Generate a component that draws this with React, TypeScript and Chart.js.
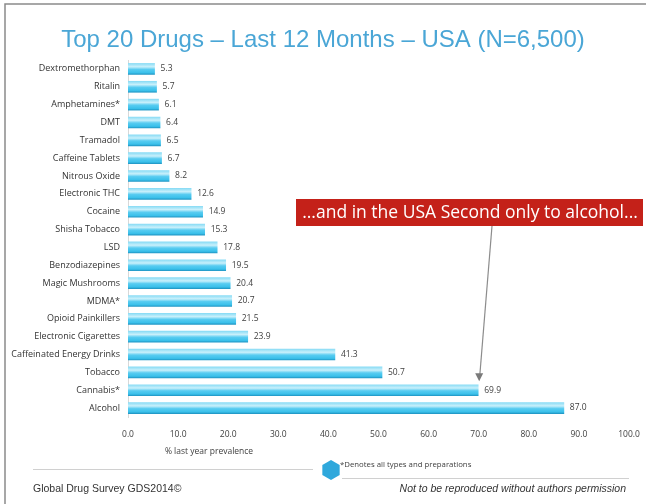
import React, { useEffect, useRef } from "react";
import { Chart, registerables } from "chart.js";

Chart.register(...registerables);

const categories = [
  "Dextromethorphan",
  "Ritalin",
  "Amphetamines*",
  "DMT",
  "Tramadol",
  "Caffeine Tablets",
  "Nitrous Oxide",
  "Electronic THC",
  "Cocaine",
  "Shisha Tobacco",
  "LSD",
  "Benzodiazepines",
  "Magic Mushrooms",
  "MDMA*",
  "Opioid Painkillers",
  "Electronic Cigarettes",
  "Caffeinated Energy Drinks",
  "Tobacco",
  "Cannabis*",
  "Alcohol",
];

const prevalence = [
  5.3, 5.7, 6.1, 6.4, 6.5, 6.7, 8.2, 12.6, 14.9, 15.3, 17.8, 19.5, 20.4, 20.7,
  21.5, 23.9, 41.3, 50.7, 69.9, 87.0,
];

const xTicks = [0, 10, 20, 30, 40, 50, 60, 70, 80, 90, 100];

const titleText = "Top 20 Drugs \u2013 Last 12 Months \u2013 USA (N=6,500)";
const calloutText = "...and in the USA Second only to alcohol...";
const axisTitle = "% last year prevalence";
const footnote = "*Denotes all types and preparations";
const footerLeft = "Global Drug Survey GDS2014\u00A9";
const footerRight = "Not to be reproduced without authors permission";
const calloutTargetIndex = 18;

const W = 646;
const H = 504;
const LABEL_FONT = '"Open Sans", "Noto Sans", sans-serif';

const decorPlugin = {
  id: "decor",
  beforeDraw(chart: any) {
    const ctx = chart.ctx;
    ctx.save();
    ctx.fillStyle = "#ffffff";
    ctx.fillRect(0, 0, W, H);
    ctx.strokeStyle = "#8a8a8a";
    ctx.lineWidth = 1.5;
    ctx.beginPath();
    ctx.moveTo(5, H);
    ctx.lineTo(5, 4);
    ctx.lineTo(W, 4);
    ctx.stroke();
    ctx.restore();
  },
  afterDatasetsDraw(chart: any) {
    const ctx = chart.ctx;
    const meta = chart.getDatasetMeta(0);
    ctx.save();
    ctx.font = `8.5px ${LABEL_FONT}`;
    ctx.fillStyle = "#404040";
    ctx.textAlign = "left";
    ctx.textBaseline = "middle";
    meta.data.forEach((bar: any, i: number) => {
      ctx.fillText(prevalence[i].toFixed(1), bar.x + 6, bar.y);
    });

    ctx.font = '24px "Liberation Sans", Arial, sans-serif';
    ctx.fillStyle = "#4aa6d6";
    ctx.textAlign = "center";
    ctx.textBaseline = "middle";
    ctx.fillText(titleText, 323, 40);

    ctx.font = `8.5px ${LABEL_FONT}`;
    ctx.fillStyle = "#404040";
    ctx.fillText(axisTitle, 209, 452);

    const target = meta.data[calloutTargetIndex];
    const tx = chart.scales.x.getPixelForValue(prevalence[calloutTargetIndex]) + 1;
    const ty = target.y - 9;
    const sx = 492;
    const sy = 226;
    ctx.strokeStyle = "#8c8c8c";
    ctx.fillStyle = "#7a7a7a";
    ctx.lineWidth = 1.2;
    ctx.beginPath();
    ctx.moveTo(sx, sy);
    ctx.lineTo(tx + 0.6, ty - 6);
    ctx.stroke();
    ctx.beginPath();
    ctx.moveTo(tx, ty);
    ctx.lineTo(tx - 4, ty - 8);
    ctx.lineTo(tx + 4, ty - 8);
    ctx.closePath();
    ctx.fill();

    ctx.fillStyle = "#c42119";
    ctx.fillRect(296, 199, 347, 27);
    ctx.font = '17.5px "Open Sans", "DejaVu Sans", sans-serif';
    ctx.fillStyle = "#ffffff";
    ctx.textAlign = "center";
    ctx.fillText(calloutText, 470, 213);

    ctx.strokeStyle = "#d0d0d0";
    ctx.lineWidth = 1;
    ctx.beginPath();
    ctx.moveTo(33, 469.5);
    ctx.lineTo(313, 469.5);
    ctx.moveTo(342, 478.5);
    ctx.lineTo(629, 478.5);
    ctx.stroke();

    const hx = 331;
    const hy = 470;
    const r = 10;
    ctx.fillStyle = "#2fa8dc";
    ctx.beginPath();
    for (let k = 0; k < 6; k++) {
      const a = Math.PI / 6 + (k * Math.PI) / 3;
      const px = hx + r * Math.cos(a);
      const py = hy + r * Math.sin(a);
      if (k === 0) ctx.moveTo(px, py);
      else ctx.lineTo(px, py);
    }
    ctx.closePath();
    ctx.fill();

    ctx.font = `7.8px ${LABEL_FONT}`;
    ctx.fillStyle = "#404040";
    ctx.textAlign = "left";
    ctx.fillText(footnote, 340, 465);

    ctx.font = '10.5px "Liberation Sans", Arial, sans-serif';
    ctx.fillStyle = "#333333";
    ctx.fillText(footerLeft, 33, 489);
    ctx.font = 'italic 10.5px "Liberation Sans", Arial, sans-serif';
    ctx.textAlign = "right";
    ctx.fillText(footerRight, 626, 489);
    ctx.restore();
  },
};

export default function App() {
  const canvasRef = useRef<HTMLCanvasElement | null>(null);

  useEffect(() => {
    const canvas = canvasRef.current;
    if (!canvas) return;
    const chart = new Chart(canvas, {
      type: "bar",
      data: {
        labels: categories,
        datasets: [
          {
            data: prevalence,
            barThickness: 11,
            backgroundColor: (c: any) => {
              const ch = c.chart;
              const ys = ch.scales && ch.scales.y;
              if (!ys || !ch.chartArea) return "#4cc8ee";
              const yc = ys.getPixelForValue(c.dataIndex);
              const g = ch.ctx.createLinearGradient(0, yc - 5.5, 0, yc + 5.5);
              g.addColorStop(0, "#8adcf5");
              g.addColorStop(0.3, "#c9f0fb");
              g.addColorStop(0.55, "#58ccf1");
              g.addColorStop(0.85, "#3ac0ea");
              g.addColorStop(1, "#2298c6");
              return g;
            },
            borderWidth: 0,
          },
        ],
      },
      options: {
        indexAxis: "y",
        animation: false,
        responsive: false,
        maintainAspectRatio: false,
        layout: { padding: { left: 0, right: 17, top: 60, bottom: 57 } },
        plugins: {
          legend: { display: false },
          title: { display: false },
          tooltip: { enabled: false },
        },
        scales: {
          x: {
            type: "linear",
            min: 0,
            max: 100,
            afterBuildTicks: (scale: any) => {
              scale.ticks = xTicks.map((v) => ({ value: v }));
            },
            afterFit: (scale: any) => {
              scale.height = 30;
              scale.paddingRight = 0;
              scale.paddingLeft = 0;
            },
            grid: { display: false, drawTicks: false },
            border: { display: false },
            ticks: {
              padding: 12,
              color: "#404040",
              font: { family: LABEL_FONT, size: 8.5 },
              callback: (v: any) => Number(v).toFixed(1),
            },
          },
          y: {
            afterFit: (scale: any) => {
              scale.width = 128;
            },
            grid: { display: false, drawTicks: false },
            border: { display: true, color: "#d8d8d8" },
            ticks: {
              padding: 8,
              color: "#333333",
              font: { family: LABEL_FONT, size: 9 },
            },
          },
        },
      },
      plugins: [decorPlugin],
    });
    return () => chart.destroy();
  }, []);

  return (
    <div style={{ position: "absolute", left: 0, top: 0, width: W, height: H, background: "#fff" }}>
      <canvas ref={canvasRef} width={W} height={H} style={{ width: W, height: H, display: "block" }} />
    </div>
  );
}
